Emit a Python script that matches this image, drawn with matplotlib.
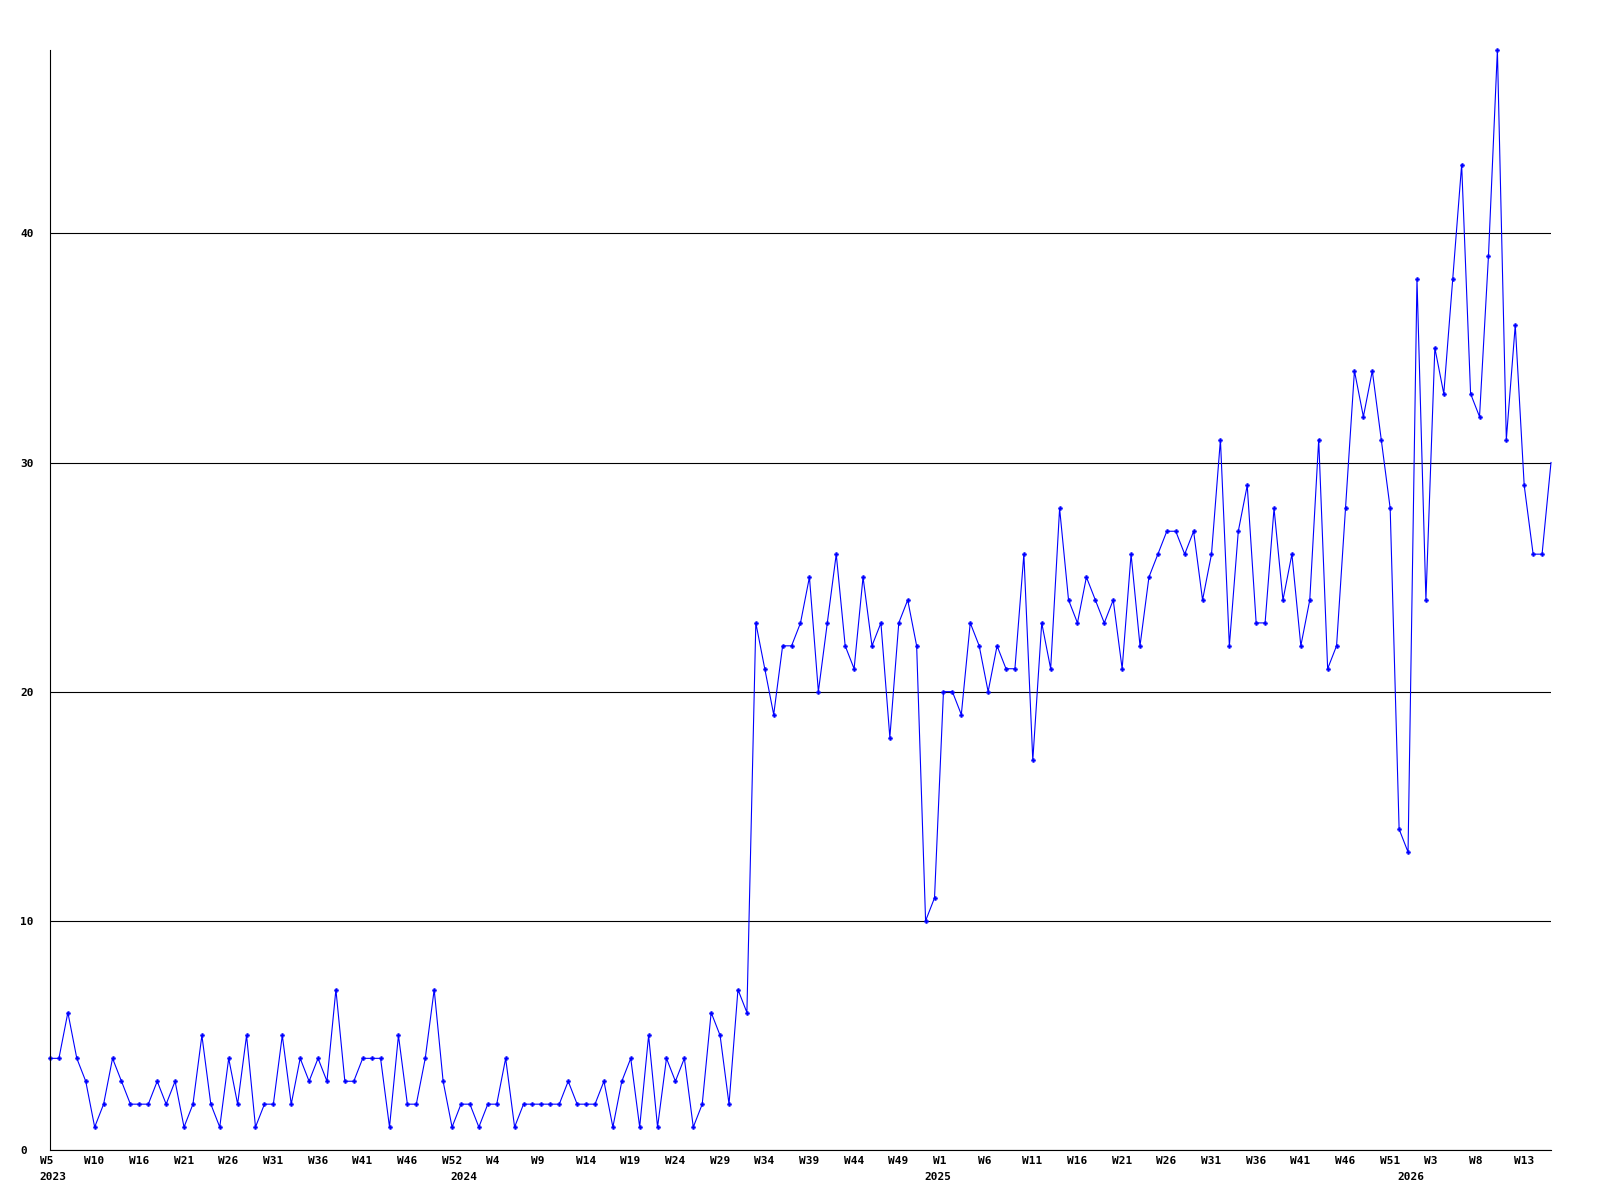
import matplotlib.pyplot as plt
import numpy as np

# weekly counts, 2023 W5 .. 2026
counts = [
    4, 4, 6, 4, 3, 1, 2, 4, 3, 2, 2, 2, 3, 2, 3, 1, 2, 5, 2, 1,
    4, 2, 5, 1, 2, 2, 5, 2, 4, 3, 4, 3, 7, 3, 3, 4, 4, 4, 1, 5,
    2, 2, 4, 7, 3, 1, 2, 2, 1, 2, 2, 4, 1, 2, 2, 2, 2, 2, 3, 2,
    2, 2, 3, 1, 3, 4, 1, 5, 1, 4, 3, 4, 1, 2, 6, 5, 2, 7, 6,
    23, 21, 19, 22, 22, 23, 25, 20, 23, 26, 22, 21, 25, 22, 23, 18, 23, 24, 22, 10,
    11, 20, 20, 19, 23, 22, 20, 22,
    21, 21, 26, 17, 23, 21, 28, 24, 23, 25, 24, 23, 24, 21, 26, 22, 25, 26, 27, 27,
    26, 27, 24, 26, 31, 22, 27, 29, 23, 23, 28,
    24, 26, 22, 24, 31, 21, 22, 28, 34, 32, 34, 31, 28, 14, 13, 38, 24, 35, 33, 38,
    43, 33, 32, 39, 48, 31, 36, 29, 26, 26, 30,
]
week_labels = ['W5', 'W10', 'W16', 'W21', 'W26', 'W31', 'W36', 'W41', 'W46', 'W52',
               'W4', 'W9', 'W14', 'W19', 'W24', 'W29', 'W34', 'W39', 'W44', 'W49',
               'W1', 'W6', 'W11', 'W16', 'W21', 'W26', 'W31', 'W36', 'W41', 'W46',
               'W51', 'W3', 'W8', 'W13']
week_label_idx = list(range(0, 5 * len(week_labels), 5))
years = ['2023', '2024', '2025', '2026']
year_idx = [0, 46, 99, 152]
y_ticks = [0, 10, 20, 30, 40]

fig = plt.figure(figsize=(16, 12), dpi=100)
ax = fig.add_axes([50 / 1600, 50 / 1200, 1501 / 1600, 1100 / 1200])

x = np.arange(len(counts))
ax.plot(x, counts, color='#0000ff', linewidth=0.8, marker='P', markersize=3,
        markeredgewidth=0.3, markevery=list(range(len(counts) - 1)), clip_on=False)

ax.set_xlim(0, len(counts) - 1)
ax.set_ylim(0, 48)

for s in ['top', 'right']:
    ax.spines[s].set_visible(False)
for s in ['left', 'bottom']:
    ax.spines[s].set_color('black')
    ax.spines[s].set_linewidth(0.8)

ax.set_yticks(y_ticks)
ax.set_yticklabels([str(v) for v in y_ticks], fontfamily='DejaVu Sans Mono',
                   fontweight='bold', fontsize=8)
ax.tick_params(axis='y', length=0, pad=21.6)
plt.setp(ax.get_yticklabels(), ha='left')
ax.yaxis.grid(True, color='black', linewidth=0.8)
ax.set_axisbelow(True)
ax.set_xticks([])

txt = dict(xycoords=('data', 'axes fraction'), textcoords='offset pixels',
           ha='left', va='top', fontfamily='DejaVu Sans Mono',
           fontweight='bold', fontsize=8, annotation_clip=False)
for i, lab in zip(week_label_idx, week_labels):
    ax.annotate(lab, xy=(i, 0), xytext=(-10.5, -6.5), **txt)
for i, lab in zip(year_idx, years):
    ax.annotate(lab, xy=(i, 0), xytext=(-10.5, -22), **txt)

fig.savefig('out.png', dpi=100)
